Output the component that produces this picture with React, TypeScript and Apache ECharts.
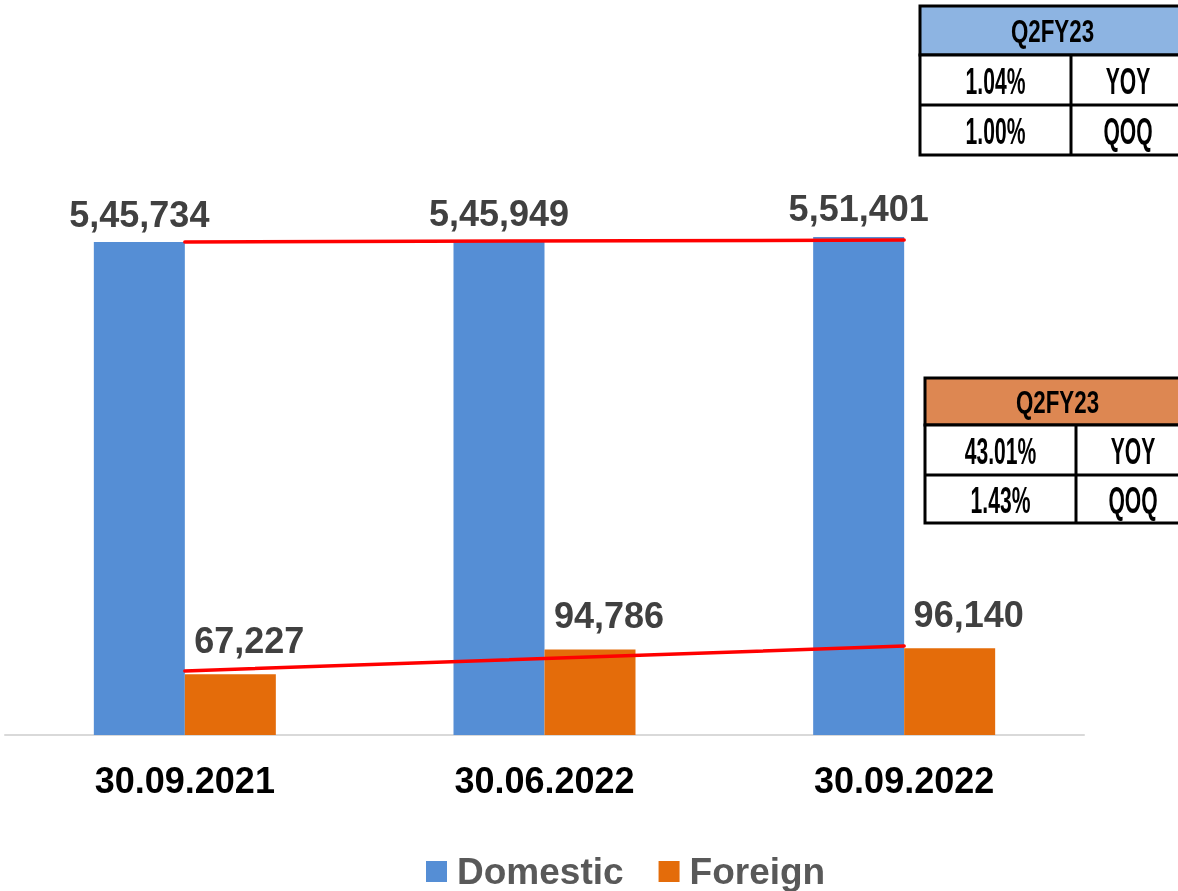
import React, { useEffect, useRef } from "react";
import * as echarts from "echarts";

const categories = ["30.09.2021", "30.06.2022", "30.09.2022"];
const domestic = [545734, 545949, 551401];
const foreign = [67227, 94786, 96140];
const domesticLabels = ["5,45,734", "5,45,949", "5,51,401"];
const foreignLabels = ["67,227", "94,786", "96,140"];
// hand-drawn red trend lines (value-space endpoints)
const domesticTrend = [545700, null, 548000];
const foreignTrend = [70900, null, 98500];

const domesticTable = { title: "Q2FY23", rows: [["1.04%", "YOY"], ["1.00%", "QOQ"]] };
const foreignTable = { title: "Q2FY23", rows: [["43.01%", "YOY"], ["1.43%", "QOQ"]] };

const FONT = "'Liberation Sans', Arial, sans-serif";

function table(t: { title: string; rows: string[][] }, x: number, y: number, w: number, rowH: number[], divX: number, fill: string) {
  const els: any[] = [];
  const H = rowH.reduce((a, b) => a + b, 0);
  els.push({ type: "rect", shape: { x, y, width: w, height: rowH[0] }, style: { fill, stroke: "#000", lineWidth: 3 }, z: 10 });
  els.push({ type: "rect", shape: { x, y: y + rowH[0], width: w, height: H - rowH[0] }, style: { fill: "#fff", stroke: "#000", lineWidth: 3 }, z: 10 });
  els.push({ type: "line", shape: { x1: x, y1: y + rowH[0] + rowH[1], x2: x + w, y2: y + rowH[0] + rowH[1] }, style: { stroke: "#000", lineWidth: 3 }, z: 11 });
  els.push({ type: "line", shape: { x1: divX, y1: y + rowH[0], x2: divX, y2: y + H }, style: { stroke: "#000", lineWidth: 3 }, z: 11 });
  const cx = x + w / 2;
  els.push({ type: "text", x: cx, y: y + rowH[0] / 2 + 1, scaleX: 0.72, style: { text: t.title, fontFamily: FONT, fontWeight: "bold", fontSize: 31, fill: "#000", textAlign: "center", textVerticalAlign: "middle" }, z: 12 });
  let ry = y + rowH[0];
  t.rows.forEach((r, i) => {
    const rh = rowH[i + 1];
    els.push({ type: "text", x: (x + divX) / 2, y: ry + rh / 2 + 1, scaleX: 0.57, style: { text: r[0], fontFamily: FONT, fontWeight: "bold", fontSize: 37, fill: "#000", textAlign: "center", textVerticalAlign: "middle" }, z: 12 });
    els.push({ type: "text", x: (divX + x + w) / 2, y: ry + rh / 2 + 1, scaleX: 0.57, style: { text: r[1], fontFamily: FONT, fontWeight: "bold", fontSize: 37, fill: "#000", textAlign: "center", textVerticalAlign: "middle" }, z: 12 });
    ry += rh;
  });
  return els;
}

export default function App() {
  const ref = useRef<HTMLDivElement>(null);
  useEffect(() => {
    const chart = echarts.init(ref.current!, null, { renderer: "svg" });
    chart.setOption({
      animation: false,
      textStyle: { fontFamily: FONT },
      grid: { left: 5, right: 94, top: 193, bottom: 156, containLabel: false },
      legend: {
        data: ["Domestic", "Foreign"],
        left: 426,
        top: 853,
        padding: 0,
        icon: "rect",
        itemWidth: 21,
        itemHeight: 21,
        itemGap: 35,
        textStyle: { fontSize: 37, lineHeight: 36, fontWeight: "bold", color: "#595959", fontFamily: FONT, padding: [0, 0, 0, 5] },
      },
      xAxis: {
        type: "category",
        data: categories,
        axisLine: { lineStyle: { color: "#D9D9D9", width: 2 } },
        axisTick: { show: false },
        axisLabel: { fontSize: 36, fontWeight: "bold", color: "#000", margin: 27, fontFamily: FONT },
      },
      yAxis: { type: "value", min: 0, max: 600000, show: false, splitLine: { show: false } },
      series: [
        {
          name: "Domestic",
          type: "bar",
          data: domestic,
          barWidth: 91,
          barGap: "0%",
          itemStyle: { color: "#558ED5" },
          label: {
            show: true,
            position: "top",
            distance: 10,
            fontSize: 36,
            fontWeight: "bold",
            color: "#404040",
            fontFamily: FONT,
            formatter: (p: any) => domesticLabels[p.dataIndex],
          },
        },
        {
          name: "Foreign",
          type: "bar",
          data: foreign,
          barWidth: 91,
          barGap: "0%",
          itemStyle: { color: "#E46C0A" },
          label: {
            show: true,
            position: "top",
            distance: 16,
            offset: [19, 0],
            fontSize: 36,
            fontWeight: "bold",
            color: "#404040",
            fontFamily: FONT,
            formatter: (p: any) => foreignLabels[p.dataIndex],
          },
        },
        {
          name: "DomesticTrend",
          type: "line",
          data: domesticTrend,
          connectNulls: true,
          symbol: "none",
          lineStyle: { color: "#FF0000", width: 3.5, cap: "round" },
          z: 5,
        },
        {
          name: "ForeignTrend",
          type: "line",
          data: foreignTrend,
          connectNulls: true,
          symbol: "none",
          lineStyle: { color: "#FF0000", width: 3.5, cap: "round" },
          z: 5,
        },
      ],
      graphic: [
        ...table(domesticTable, 920, 6, 265, [49, 50, 50], 1071, "#8DB4E2"),
        ...table(foreignTable, 925, 378, 265, [47, 50, 48], 1076, "#DD8752"),
      ],
    });
    return () => chart.dispose();
  }, []);
  return <div ref={ref} style={{ position: "fixed", left: 0, top: 0, width: 1178, height: 891 }} />;
}
